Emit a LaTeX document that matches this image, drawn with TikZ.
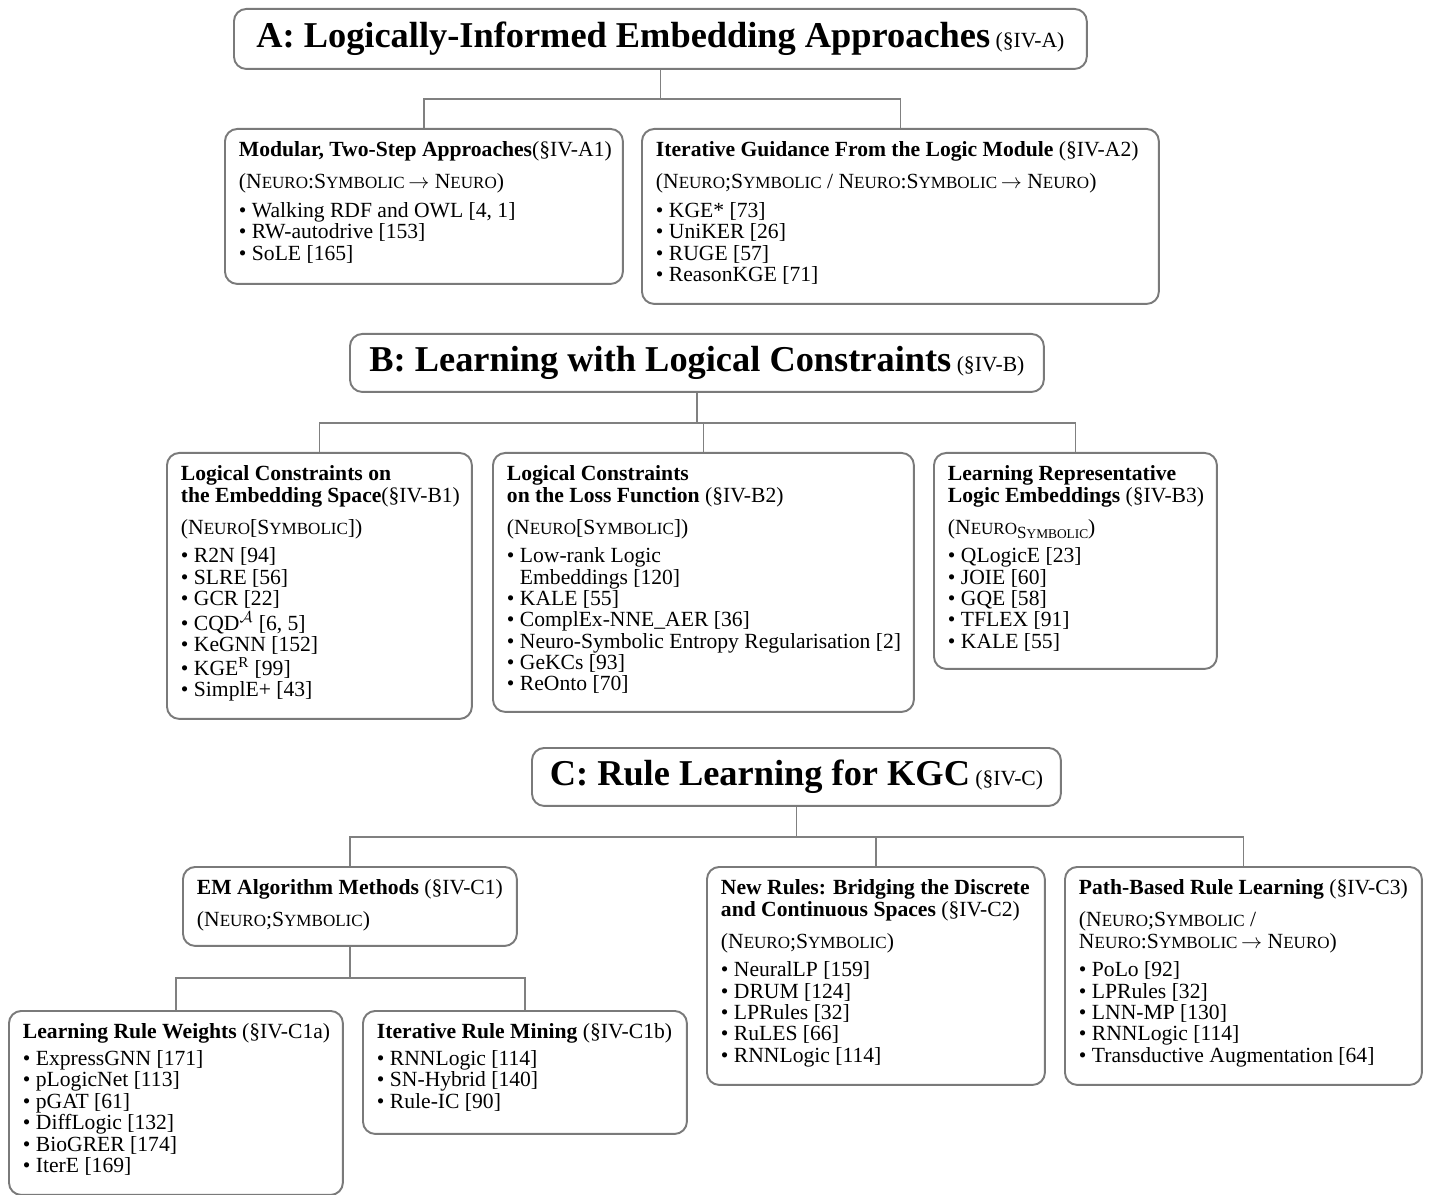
\documentclass[tikz,border=0pt]{standalone}
\usepackage{fontspec}
\setmainfont{Liberation Serif}
\definecolor{boxgray}{RGB}{122,122,122}
\definecolor{linkgray}{RGB}{128,128,128}
\newcommand{\smc}[1]{{\fontsize{9.7}{9.7}\selectfont #1}}
\newcommand{\Neuro}{N\smc{EURO}}
\newcommand{\Symb}{S\smc{YMBOLIC}}
\newcommand{\SymbSub}{\raisebox{-0.45ex}{\fontsize{9.7}{9.7}\selectfont S{\fontsize{7.6}{7.6}\selectfont YMBOLIC}}}
\newcommand{\boxtext}[3]{\parbox[t][#2][t]{#1}{\begin{tabular}[t]{@{}l@{}}#3\end{tabular}}}
\newcommand{\titletext}[2]{{\fontsize{20.7}{24}\selectfont\bfseries #1} #2}
\newcommand{\itm}{\textbullet\ }
\begin{document}
\begin{tikzpicture}
          [x=0.02cm, y=-0.02cm,
          font=\fontsize{12.3}{12.1}\selectfont,
          head/.style={draw=boxgray, line width=1.1pt, rounded corners=7pt, anchor=north west, inner sep=0pt, align=center},
          box/.style={draw=boxgray, line width=1.1pt, rounded corners=7pt, anchor=north west, inner xsep=0.28cm, inner ysep=0.26cm},
          link/.style={draw=linkgray, line width=1pt}]

            \useasboundingbox (0,0) rectangle (1429,1195);

            % part A
            \node (A) [head, minimum width=17.06cm, minimum height=1.2cm] at (233,8)
              {\titletext{A: Logically-Informed Embedding Approaches}{(§IV-A)}};
            \node (A1) [box] at (224,128) {\boxtext{7.4cm}{2.58cm}{%
              \textbf{Modular, Two-Step Approaches}(§IV-A1)\\[6pt]
              (\Neuro:\Symb\,$\rightarrow$\ \Neuro)\\[4pt]
              \itm Walking RDF and OWL [4, 1]\\
              \itm RW-autodrive [153]\\
              \itm SoLE [165]}};
            \node (A2) [box] at (641,128) {\boxtext{9.78cm}{2.98cm}{%
              \textbf{Iterative Guidance From the Logic Module} (§IV-A2)\\[6pt]
              (\Neuro;\Symb\ / \Neuro:\Symb\,$\rightarrow$\ \Neuro)\\[4pt]
              \itm KGE* [73]\\
              \itm UniKER [26]\\
              \itm RUGE [57]\\
              \itm ReasonKGE [71]}};

            % part B
            \node (B) [head, minimum width=13.88cm, minimum height=1.16cm] at (349,333)
              {\titletext{B: Learning with Logical Constraints}{(§IV-B)}};
            \node (B1) [box] at (166,452) {\boxtext{5.54cm}{4.8cm}{%
              \textbf{Logical Constraints on}\\
              \textbf{the Embedding Space}(§IV-B1)\\[6pt]
              (\Neuro[\Symb])\\[4pt]
              \itm R2N [94]\\
              \itm SLRE [56]\\
              \itm GCR [22]\\
              \itm CQD$^{\mathcal{A}}$ [6, 5]\\
              \itm KeGNN [152]\\
              \itm KGE\textsuperscript{R} [99]\\
              \itm SimplE+ [43]}};
            \node (B2) [box] at (492,452) {\boxtext{7.86cm}{4.66cm}{%
              \textbf{Logical Constraints}\\
              \textbf{on the Loss Function} (§IV-B2)\\[6pt]
              (\Neuro[\Symb])\\[4pt]
              \itm Low-rank Logic\\
              \phantom{\itm}Embeddings [120]\\
              \itm KALE [55]\\
              \itm ComplEx-NNE\_AER [36]\\
              \itm Neuro-Symbolic Entropy Regularisation [2]\\
              \itm GeKCs [93]\\
              \itm ReOnto [70]}};
            \node (B3) [box] at (933,452) {\boxtext{5.1cm}{3.8cm}{%
              \textbf{Learning Representative}\\
              \textbf{Logic Embeddings} (§IV-B3)\\[6pt]
              (\Neuro\SymbSub)\\[4pt]
              \itm QLogicE [23]\\
              \itm JOIE [60]\\
              \itm GQE [58]\\
              \itm TFLEX [91]\\
              \itm KALE [55]}};

            % part C
            \node (C) [head, minimum width=10.58cm, minimum height=1.16cm] at (531,747)
              {\titletext{C: Rule Learning for KGC}{(§IV-C)}};
            \node (C1) [box] at (182,866) {\boxtext{6.12cm}{1.06cm}{%
              \textbf{EM Algorithm Methods} (§IV-C1)\\[6pt]
              (\Neuro;\Symb)}};
            \node (C2) [box] at (706,866) {\boxtext{6.2cm}{3.84cm}{%
              \textbf{New Rules: Bridging the Discrete}\\
              \textbf{and Continuous Spaces} (§IV-C2)\\[6pt]
              (\Neuro;\Symb)\\[4pt]
              \itm NeuralLP [159]\\
              \itm DRUM [124]\\
              \itm LPRules [32]\\
              \itm RuLES [66]\\
              \itm RNNLogic [114]}};
            \node (C3) [box] at (1064,866) {\boxtext{6.58cm}{3.84cm}{%
              \textbf{Path-Based Rule Learning} (§IV-C3)\\[6pt]
              (\Neuro;\Symb\ /\\
              \Neuro:\Symb\,$\rightarrow$\ \Neuro)\\[4pt]
              \itm PoLo [92]\\
              \itm LPRules [32]\\
              \itm LNN-MP [130]\\
              \itm RNNLogic [114]\\
              \itm Transductive Augmentation [64]}};
            \node (C1a) [box] at (8,1010) {\boxtext{6.12cm}{3.16cm}{%
              \textbf{Learning Rule Weights} (§IV-C1a)\\[3pt]
              \itm ExpressGNN [171]\\
              \itm pLogicNet [113]\\
              \itm pGAT [61]\\
              \itm DiffLogic [132]\\
              \itm BioGRER [174]\\
              \itm IterE [169]}};
            \node (C1b) [box] at (362,1010) {\boxtext{5.92cm}{1.94cm}{%
              \textbf{Iterative Rule Mining} (§IV-C1b)\\[3pt]
              \itm RNNLogic [114]\\
              \itm SN-Hybrid [140]\\
              \itm Rule-IC [90]}};

            \draw [link] (A.south) -- ++(0,29) -| (A1.north);
            \draw [link] (A.south) -- ++(0,29) -| (A2.north);
            \draw [link] (B.south) -- ++(0,30) -| (B1.north);
            \draw [link] (B.south) -- ++(0,30) -| (B2.north);
            \draw [link] (B.south) -- ++(0,30) -| (B3.north);
            \draw [link] (C.south) -- ++(0,30) -| (C1.north);
            \draw [link] (C.south) -- ++(0,30) -| (C2.north);
            \draw [link] (C.south) -- ++(0,30) -| (C3.north);
            \draw [link] (C1.south) -- ++(0,31) -| (C1a.north);
            \draw [link] (C1.south) -- ++(0,31) -| (C1b.north);

        \end{tikzpicture}
\end{document}
